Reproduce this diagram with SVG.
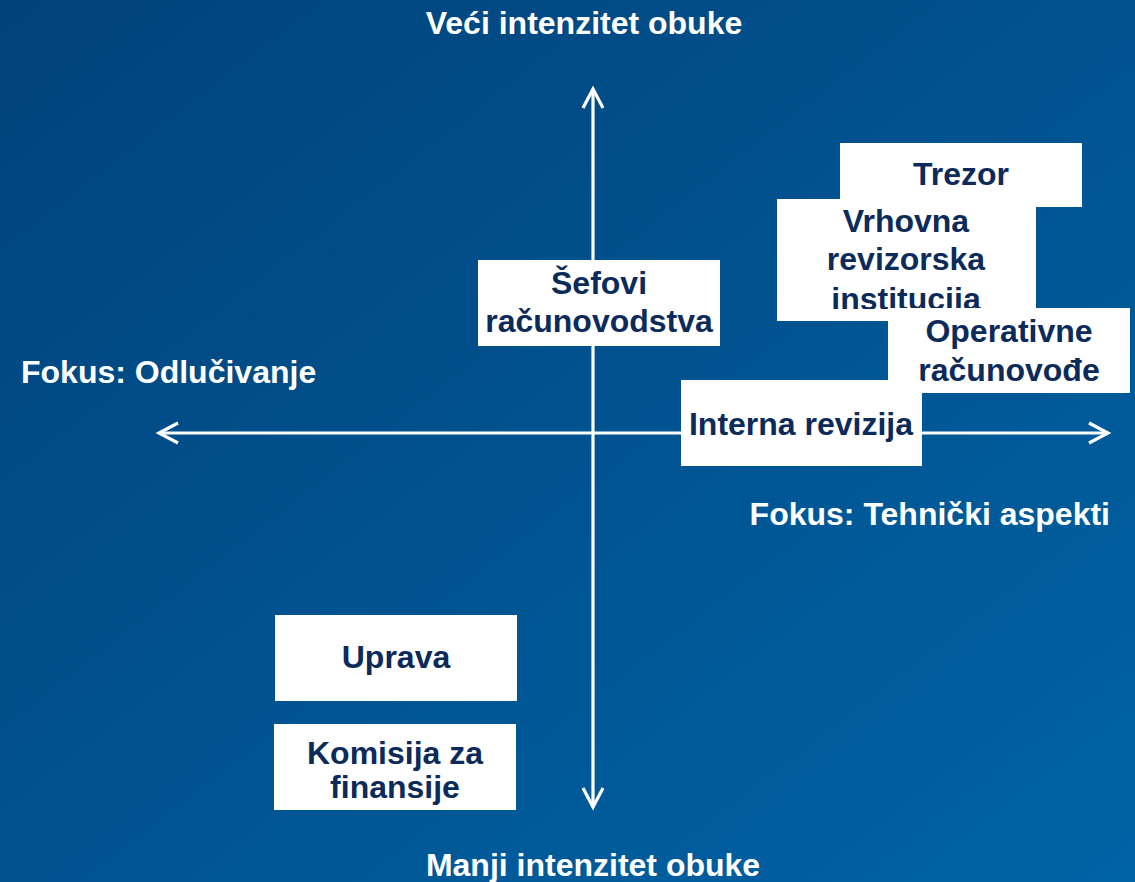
<svg xmlns="http://www.w3.org/2000/svg" width="1135" height="882" viewBox="0 0 1135 882">
  <style>
    .box { fill: #ffffff; }
    .nt { font-family: "Liberation Sans", Arial, sans-serif; font-weight: bold; font-size: 32px; fill: #0c2a5a; text-anchor: middle; }
    .ax { font-family: "Liberation Sans", Arial, sans-serif; font-weight: bold; font-size: 32px; fill: #ffffff; }
    .axis { stroke: #ffffff; stroke-width: 3.2; fill: none; marker-start: url(#chev); marker-end: url(#chev); }
  </style>
  <defs>
    <linearGradient id="bg" x1="0" y1="0" x2="1" y2="1">
      <stop offset="0" stop-color="#01427a"/>
      <stop offset="1" stop-color="#0063a5"/>
    </linearGradient>
    <marker id="chev" markerUnits="userSpaceOnUse" markerWidth="30" markerHeight="30" refX="22" refY="12" orient="auto-start-reverse" overflow="visible">
      <path d="M3,2 L22,12 L3,22" fill="none" stroke="#ffffff" stroke-width="3.2"/>
    </marker>
    <clipPath id="vrhClip">
      <rect x="777" y="199" width="259" height="110"/>
    </clipPath>
  </defs>

  <rect x="0" y="0" width="1135" height="882" fill="url(#bg)"/>

  <g id="connectors">
    <line class="axis" x1="593" y1="89" x2="593" y2="807"/>
    <line class="axis" x1="159" y1="433" x2="1108" y2="433"/>
  </g>

  <g id="labels">
    <text class="ax" x="584" y="34" text-anchor="middle">Veći intenzitet obuke</text>
    <text class="ax" x="593" y="876" text-anchor="middle">Manji intenzitet obuke</text>
    <text class="ax" x="21" y="383">Fokus: Odlučivanje</text>
    <text class="ax" x="1110" y="525" text-anchor="end">Fokus: Tehnički aspekti</text>
  </g>

  <g id="node-sefovi">
    <rect class="box" x="478" y="260" width="242" height="86"/>
    <text class="nt" x="599" y="294">Šefovi</text>
    <text class="nt" x="599" y="332">računovodstva</text>
  </g>

  <g id="node-trezor">
    <rect class="box" x="840" y="143" width="242" height="64"/>
    <text class="nt" x="961" y="185">Trezor</text>
  </g>

  <g id="node-vrhovna">
    <rect class="box" x="777" y="199" width="259" height="122"/>
    <g clip-path="url(#vrhClip)">
      <text class="nt" x="906" y="232">Vrhovna</text>
      <text class="nt" x="906" y="270">revizorska</text>
      <text class="nt" x="906" y="310">institucija</text>
    </g>
  </g>

  <g id="node-operativne">
    <rect class="box" x="888" y="308" width="242" height="85"/>
    <text class="nt" x="1009" y="342">Operativne</text>
    <text class="nt" x="1009" y="381">računovođe</text>
  </g>

  <g id="node-interna">
    <rect class="box" x="681" y="380" width="241" height="86"/>
    <text class="nt" x="801" y="435">Interna revizija</text>
  </g>

  <g id="node-uprava">
    <rect class="box" x="275" y="615" width="242" height="86"/>
    <text class="nt" x="396" y="668">Uprava</text>
  </g>

  <g id="node-komisija">
    <rect class="box" x="274" y="724" width="242" height="86"/>
    <text class="nt" x="395" y="764">Komisija za</text>
    <text class="nt" x="395" y="798">finansije</text>
  </g>
</svg>
